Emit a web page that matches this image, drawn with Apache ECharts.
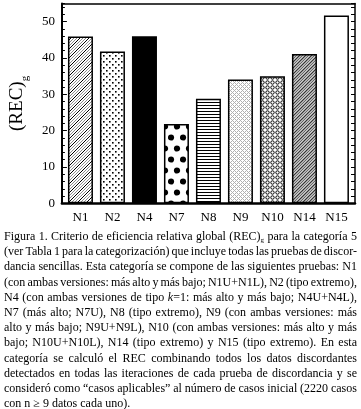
<!DOCTYPE html>
<html><head><meta charset="utf-8">
<script src="https://cdn.jsdelivr.net/npm/echarts@6/dist/echarts.min.js"></script>
<style>
html,body{margin:0;padding:0;background:#fff;}
#chart{position:absolute;left:0;top:0;width:361px;height:409px;}
#cap{position:absolute;left:4px;top:229px;width:353px;font-family:"Liberation Serif","Times New Roman",serif;font-size:12px;line-height:15.2px;color:#000;}
.ln{display:flex;justify-content:space-between;white-space:nowrap;}
.ln.last{display:block;}
sub{font-size:7px;line-height:0;vertical-align:-2px;}
</style></head>
<body>
<div id="chart"></div>
<div id="cap"></div>
<script>
// ---- data ----
const categories = ['N1','N2','N4','N7','N8','N9','N10','N14','N15'];
const values = [45.9, 41.8, 46.0, 21.8, 28.8, 34.1, 35.0, 41.1, 51.7];
const yTickLabels = [0, 10, 20, 30, 40, 50];
const yName = '(REC)';
const yNameSub = 'g';
const captionLines = [
  'Figura 1. Criterio de eficiencia relativa global (REC)<sub>g</sub> para la categoría 5',
  '(ver Tabla 1 para la categorización) que incluye todas las pruebas de discor-',
  'dancia sencillas. Esta categoría se compone de las siguientes pruebas: N1',
  '(con ambas versiones: más alto y más bajo; N1U+N1L), N2 (tipo extremo),',
  'N4 (con ambas versiones de tipo <i>k</i>=1: más alto y más bajo; N4U+N4L),',
  'N7 (más alto; N7U), N8 (tipo extremo), N9 (con ambas versiones: más',
  'alto y más bajo; N9U+N9L), N10 (con ambas versiones: más alto y más',
  'bajo; N10U+N10L), N14 (tipo extremo) y N15 (tipo extremo). En esta',
  'categoría se calculó el REC combinando todos los datos discordantes',
  'detectados en todas las iteraciones de cada prueba de discordancia y se',
  'consideró como “casos aplicables” al número de casos inicial (2220 casos',
  'con n ≥ 9 datos cada uno).'
];

// ---- caption ----
const cap = document.getElementById('cap');
captionLines.forEach((t, i) => {
  const d = document.createElement('div');
  if (i === captionLines.length - 1) { d.className = 'ln last'; d.innerHTML = t; }
  else { d.className = 'ln'; d.innerHTML = t.split(' ').map(w => '<span>' + w + '</span>').join(''); }
  cap.appendChild(d);
});

// ---- fill patterns ----
function tile(w, h, draw) {
  const c = document.createElement('canvas'); c.width = w; c.height = h;
  const g = c.getContext('2d'); g.fillStyle = '#fff'; g.fillRect(0, 0, w, h); draw(g, w, h);
  return { image: c, repeat: 'repeat' };
}
function pix(g, x, y, col) { g.fillStyle = col; g.fillRect(x, y, 1, 1); }
const pHatch = tile(9, 9, (g, w, h) => { for (let x = 0; x < w; x++) for (let y = 0; y < h; y++) { const k = (x + y) % 9; if (k === 0) pix(g, x, y, '#000'); else if (k % 3 === 0) pix(g, x, y, '#8a8a8a'); } });
const pDots = tile(6, 6, (g) => { g.fillStyle = '#000'; g.fillRect(1, 1, 1.6, 1.6); g.fillRect(4, 4, 1.6, 1.6); });
const pSolid = '#000';
const pBig = tile(12, 22, (g) => { g.fillStyle = '#000'; [[3, 5.5], [9, 16.5], [-3, 16.5], [15, 16.5]].forEach(p => { g.beginPath(); g.arc(p[0], p[1], 3.1, 0, 7); g.fill(); }); });
const pHl = tile(3, 3, (g) => { g.fillStyle = '#000'; g.fillRect(0, 0, 3, 1); });
const pLat = tile(4, 4, (g, w, h) => { for (let x = 0; x < w; x++) for (let y = 0; y < h; y++) { if ((x + y) % 4 === 0 || (x - y + 8) % 4 === 0) pix(g, x, y, '#b0b0b0'); } });
const pRing = tile(5, 5, (g) => { g.strokeStyle = '#000'; g.lineWidth = 1; g.beginPath(); g.arc(2.5, 2.5, 1.7, 0, 7); g.stroke(); });
const pHatch2 = tile(6, 6, (g, w, h) => { const cols = ['#333', '#999', '#bbb', '#666', '#ccc', '#aaa']; for (let x = 0; x < w; x++) for (let y = 0; y < h; y++) pix(g, x, y, cols[(x + y) % 6]); });
const pBlank = '#fff';
const fills = [pHatch, pDots, pSolid, pBig, pHl, pLat, pRing, pHatch2, pBlank];

// ---- chart ----
const FONT = '"Liberation Serif", "Times New Roman", serif';
const chart = echarts.init(document.getElementById('chart'), null, { renderer: 'canvas' });
chart.setOption({
  backgroundColor: '#fff',
  animation: false,
  grid: { left: 47, right: 6, top: 3.5, bottom: 205.7 },
  xAxis: [{
    type: 'value', min: -0.58, max: 8.58, position: 'bottom',
    splitLine: { show: false },
    axisLine: { show: true, onZero: false, lineStyle: { color: '#000', width: 2.5 } },
    axisTick: { show: false },
    axisLabel: { customValues: categories.map((c, i) => i), formatter: v => categories[Math.round(v)], fontFamily: FONT, fontSize: 13, color: '#000', margin: 8 }
  }, {
    type: 'value', min: -0.58, max: 8.58, position: 'top',
    splitLine: { show: false },
    axisLine: { show: true, onZero: false, lineStyle: { color: '#000', width: 1.5 } },
    axisTick: { show: false }, axisLabel: { show: false }
  }],
  yAxis: [{
    type: 'value', min: 0, max: 55, interval: 10, position: 'left',
    splitLine: { show: false },
    axisLine: { show: true, onZero: false, lineStyle: { color: '#000', width: 2 } },
    axisTick: { show: true, inside: true, length: 5, lineStyle: { color: '#000', width: 1 } },
    axisLabel: { showMaxLabel: false, formatter: v => (yTickLabels.indexOf(v) >= 0 ? String(v) : ''), fontFamily: FONT, fontSize: 13, color: '#000', margin: 7 },
    name: '{a|' + yName + '}{b|' + yNameSub + '}', nameLocation: 'middle', nameRotate: 90, nameGap: 27,
    nameTextStyle: { rich: {
      a: { fontFamily: FONT, fontSize: 19, color: '#000', verticalAlign: 'top' },
      b: { fontFamily: FONT, fontSize: 11, color: '#000', verticalAlign: 'top', padding: [12, 0, 0, 0] }
    } }
  }, {
    type: 'value', min: 0, max: 55, interval: 2, position: 'right',
    splitLine: { show: false },
    axisLine: { show: true, onZero: false, lineStyle: { color: '#000', width: 1.5 } },
    axisTick: { show: true, inside: true, length: 4, lineStyle: { color: '#000', width: 1 } },
    axisLabel: { show: false }
  }, {
    type: 'value', min: 0, max: 55, interval: 2, position: 'left',
    splitLine: { show: false },
    axisLine: { show: false, onZero: false },
    axisTick: { show: true, inside: true, length: 3, lineStyle: { color: '#000', width: 1 } },
    axisLabel: { show: false }
  }],
  series: [{
    type: 'bar', xAxisIndex: 0, yAxisIndex: 0, barWidth: 25,
    data: categories.map((c, i) => ({ value: [i, values[i]], itemStyle: { color: fills[i] } })),
    itemStyle: { borderColor: '#000', borderWidth: 1.5 }
  }]
});
</script>
</body></html>
